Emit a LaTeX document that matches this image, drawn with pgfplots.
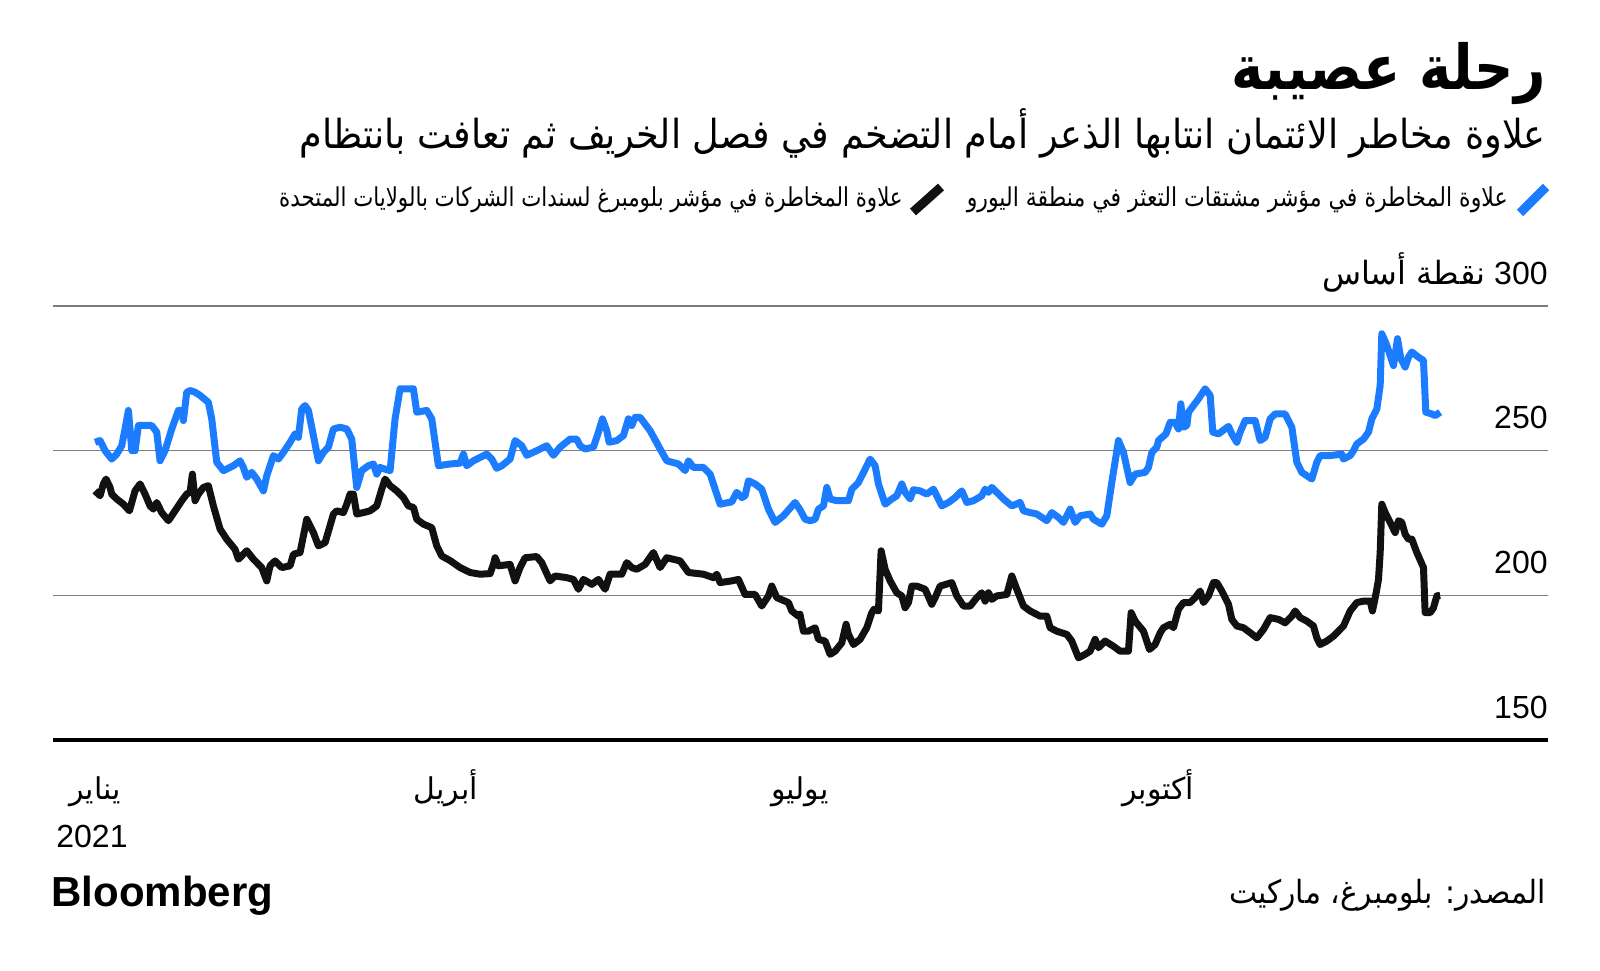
\documentclass[border=0pt]{standalone}
\usepackage{fontspec}
\usepackage{pgfplots}
\pgfplotsset{compat=1.18}
\setmainfont{Liberation Sans}
\newfontfamily\ar[Script=Arabic]{DejaVu Sans}
\TeXXeTstate=1
\definecolor{bbblue}{RGB}{28,124,255}
\definecolor{gridgray}{RGB}{125,125,125}
\definecolor{bbblack}{RGB}{17,17,17}

\begin{document}
\begin{tikzpicture}
\path (-26.5pt,370pt) rectangle (773.5pt,-115pt);
\begin{axis}[
    at={(0,0)}, anchor=south west,
    scale only axis, width=747.5pt, height=217pt,
    xmin=-10.8, xmax=373.1, ymin=150, ymax=300,
    axis line style={draw=none},
    tick style={draw=none},
    ymajorgrids,
    major grid style={gridgray, line width=0.8pt},
    ytick={200,250,300},
    yticklabels={200,250,{{\ar\beginR نقطة أساس\endR}\ 300}},
    extra y ticks={150},
    extra y tick labels={150},
    extra y tick style={major grid style={black, line width=2pt}},
    yticklabel pos=right,
    yticklabel style={anchor=base east, inner sep=0pt, yshift=11pt, font=\fontsize{16}{19}\selectfont},
    xtick={0,90,181,273},
    xticklabels={{\ar يناير},{\ar أبريل},{\ar يوليو},{\ar أكتوبر}},
    xticklabel style={anchor=base, inner sep=0pt, yshift=-29.5pt, font=\fontsize{15}{18}\selectfont},
    clip=false,
]
\addplot[bbblue, line width=3.5pt, line join=round] coordinates {
(0,252.9) (1.28,253.5) (2.57,250.0) (4.28,247.1) (5.56,248.8) (6.85,251.7) (7.70,257.5) (8.56,263.9)
(8.99,257.5) (9.42,250.0) (10.27,250.0) (11.13,258.7) (11.98,258.7) (14.55,258.7) (15.84,256.4)
(16.69,246.5) (17.98,250.0) (19.69,257.5) (21.40,263.9) (22.26,263.9) (22.68,260.4) (23.54,270.2)
(24.40,270.8) (25.68,270.2) (26.96,269.1) (29.10,266.7) (29.96,261.0) (31.25,246.0) (32.96,243.1)
(35.52,244.8) (37.24,246.5) (38.09,244.2) (38.95,240.8) (40.23,242.5) (41.52,240.2) (43.23,236.1)
(44.09,241.3) (45.80,248.3) (47.08,247.1) (48.37,249.4) (50.08,252.9) (51.36,255.8) (52.22,254.6)
(53.07,264.4) (53.93,265.6) (54.78,263.9) (56.07,255.2) (57.35,246.5) (58.64,249.4) (59.92,251.2)
(61.21,257.5) (62.92,258.1) (64.63,257.5) (65.91,254.0) (67.20,237.3) (68.48,243.1) (70.19,244.8)
(71.48,245.4) (72.33,241.9) (73.19,244.2) (74.47,243.6) (75.76,243.1) (77.04,261.0) (78.33,271.4)
(79.61,271.4) (81.75,271.4) (82.61,263.3) (85.17,263.9) (86.46,261.0) (88.17,244.8) (91.17,245.4)
(93.73,245.7) (94.59,248.8) (95.45,244.8) (97.16,246.5) (100.58,248.8) (101.87,247.1) (103.15,243.9)
(104.44,244.8) (106.57,247.1) (107.86,253.5) (109.57,251.7) (110.86,248.4) (113.42,250.0) (115.99,251.7)
(117.70,248.4) (119.41,251.2) (121.98,254.0) (123.69,254.0) (124.55,251.7) (125.83,250.6) (127.98,251.2)
(129.26,256.4) (130.29,261.0) (131.40,256.9) (132.00,252.9) (133.97,253.5) (135.68,255.2) (136.96,261.0)
(137.82,258.7) (138.67,261.5) (139.96,261.5) (142.53,256.9) (145.09,250.6) (146.81,246.5) (149.80,245.4)
(151.52,243.1) (152.37,246.5) (153.66,244.2) (156.22,244.2) (157.94,241.9) (159.22,236.7) (160.50,231.5)
(163.50,232.3) (164.78,235.6) (166.07,233.8) (166.92,234.4) (167.78,239.6) (169.49,238.5) (171.20,236.7)
(172.92,229.8) (174.63,225.2) (176.77,227.5) (179.76,232.1) (181.05,229.5) (182.33,226.3) (183.62,225.8)
(184.90,226.3) (185.76,229.8) (187.04,230.9) (187.90,237.3) (188.75,233.3) (190.46,232.7) (193.46,232.7)
(194.32,236.7) (196.03,239.0) (197.74,243.6) (199.02,247.1) (200.31,244.8) (201.16,238.5) (202.88,231.5)
(204.59,233.3) (205.87,234.4) (207.16,238.5) (208.01,235.6) (209.30,233.3) (210.15,236.5) (211.86,236.1)
(213.58,235.0) (215.29,236.7) (217.43,230.9) (219.14,232.1) (220.85,233.8) (222.57,236.1) (223.85,232.1)
(225.56,232.7) (227.70,234.4) (228.56,236.7) (229.41,235.6) (230.27,237.3) (231.55,235.6) (233.26,233.3)
(235.41,230.9) (237.54,232.1) (238.40,229.2) (240.11,228.6) (241.83,228.1) (244.39,225.8) (245.68,228.6)
(247.39,226.9) (248.67,225.2) (250.39,229.8) (251.67,225.2) (252.95,227.5) (255.52,228.1) (256.38,226.3)
(258.52,224.6) (259.80,227.5) (261.08,239.0) (262.80,253.5) (264.08,249.4) (265.79,239.0) (267.08,241.9)
(269.65,242.5) (270.50,244.2) (271.36,249.4) (272.64,251.2) (273.07,253.5) (275.00,255.8) (276.07,259.8)
(277.35,259.8) (278.21,257.5) (278.81,266.2) (279.49,258.1) (280.35,258.7) (280.78,263.3) (282.06,265.6)
(283.34,267.9) (285.05,271.4) (286.34,269.1) (287.02,256.4) (288.48,255.8) (291.05,258.4) (291.90,255.8)
(293.19,252.9) (294.04,256.4) (295.33,260.4) (297.89,260.4) (299.18,253.5) (300.46,254.6) (301.75,261.0)
(303.03,262.7) (305.60,262.7) (307.31,258.1) (308.60,246.0) (309.88,242.5) (312.45,240.2) (313.73,246.0)
(314.59,248.3) (317.15,248.3) (320.15,248.8) (320.58,247.1) (322.29,248.3) (323.15,250.0) (324.00,252.3)
(325.71,254.0) (327.00,256.4) (327.86,261.0) (329.14,264.4) (330.00,272.5) (330.42,290.4) (331.71,286.4)
(332.56,282.9) (333.42,279.4) (334.45,288.7) (335.30,281.8) (336.42,278.9) (337.27,282.3) (338.13,284.1)
(339.84,282.3) (341.12,281.2) (341.72,263.3) (343.26,262.7) (344.12,262.1) (345.40,263.3)
};
\addplot[bbblack, line width=3.5pt, line join=round] coordinates {
(0,236.1) (1.28,234.4) (2.14,238.5) (2.82,240.2) (3.85,237.3) (4.28,235.0) (5.56,233.3) (7.28,231.5)
(8.82,229.2) (10.27,236.1) (11.56,238.5) (12.84,235.0) (14.12,230.9) (14.98,229.8) (15.84,232.1)
(17.12,228.6) (18.83,225.8) (20.54,229.2) (22.26,232.7) (23.54,235.0) (24.40,235.6) (25.00,241.9)
(25.68,232.7) (26.54,235.0) (27.82,237.3) (29.10,237.9) (30.39,230.9) (32.10,222.9) (33.81,219.4)
(35.95,215.9) (36.81,212.5) (38.95,215.4) (40.66,212.5) (42.80,209.6) (44.09,205.0) (44.94,210.2)
(46.22,211.9) (47.94,209.6) (50.08,210.2) (50.93,214.2) (52.64,214.8) (54.36,226.3) (56.07,221.7)
(57.35,217.1) (59.07,218.2) (61.21,228.1) (62.06,229.2) (63.77,228.6) (64.63,231.5) (65.49,235.0)
(66.34,235.0) (67.20,228.1) (68.91,228.6) (70.62,229.2) (72.33,230.9) (73.62,236.7) (74.47,240.2)
(75.76,237.9) (77.47,236.1) (79.18,233.8) (80.47,230.9) (81.75,230.4) (82.61,226.3) (84.32,224.6)
(86.46,223.4) (87.74,217.1) (89.03,213.6) (91.17,212.0) (93.73,209.6) (96.30,207.9) (98.87,207.3)
(101.44,207.5) (102.29,210.7) (102.72,213.0) (103.58,210.2) (106.57,210.7) (107.86,205.0) (109.14,209.6)
(110.43,213.0) (113.42,213.4) (114.71,211.3) (116.85,205.0) (118.13,206.7) (121.13,206.1) (122.84,205.5)
(124.12,202.1) (125.41,205.5) (127.55,203.8) (129.26,205.5) (130.97,202.1) (132.25,207.3) (135.25,207.3)
(136.53,211.3) (137.82,209.6) (139.10,209.0) (141.24,210.7) (143.38,214.8) (145.09,209.6) (146.81,213.0)
(150.23,211.9) (152.37,207.9) (156.22,207.3) (158.79,206.1) (159.65,207.3) (160.50,204.4) (163.50,205.0)
(165.21,205.5) (166.92,200.3) (169.49,200.3) (171.20,196.3) (172.92,199.8) (173.77,203.2) (175.06,199.2)
(178.05,197.5) (178.91,194.6) (180.62,192.8) (181.00,193.5) (181.90,187.6) (183.19,187.6) (184.90,188.8)
(185.76,184.8) (187.47,184.2) (188.75,179.6) (190.04,180.7) (191.75,183.6) (192.86,190.0) (193.46,186.5)
(194.75,183.0) (196.46,184.8) (198.17,188.8) (199.45,194.0) (200.05,195.2) (201.16,194.6) (201.85,215.4)
(202.88,209.0) (204.16,205.0) (205.87,200.9) (207.16,199.8) (208.01,195.7) (208.87,197.5) (209.73,203.2)
(211.01,203.2) (213.15,202.1) (214.86,196.9) (215.72,199.2) (217.00,203.2) (220.00,204.4) (221.28,199.8)
(223.00,196.3) (224.71,196.3) (226.42,199.2) (227.70,200.9) (228.56,198.0) (229.41,200.9) (230.27,198.6)
(231.55,199.8) (234.12,200.3) (235.41,206.7) (236.69,202.1) (238.40,196.3) (240.11,194.6) (242.68,192.8)
(244.39,192.8) (245.25,188.8) (246.96,187.6) (249.53,186.5) (250.81,184.2) (252.52,178.4) (254.24,179.6)
(255.52,180.7) (256.80,184.8) (257.66,181.9) (259.37,184.2) (261.51,182.4) (263.23,180.7) (265.36,180.7)
(266.05,194.0) (267.08,191.1) (269.22,187.6) (270.76,181.3) (272.21,183.0) (273.50,187.0) (274.35,188.8)
(276.07,190.0) (276.92,188.8) (278.21,195.2) (279.49,197.5) (281.20,197.5) (282.49,199.2) (283.77,201.5)
(284.63,197.5) (285.91,199.8) (287.19,204.4) (288.05,204.4) (289.33,201.5) (291.05,196.9) (291.90,191.7)
(293.19,189.4) (294.90,188.8) (296.61,187.1) (298.32,185.3) (300.03,188.2) (301.75,192.3) (303.88,191.7)
(305.60,190.5) (307.31,192.8) (308.17,194.6) (309.45,192.3) (311.16,191.1) (312.87,189.4) (313.73,185.3)
(314.59,183.0) (316.30,184.2) (318.01,185.9) (320.58,189.4) (322.29,194.6) (324.00,197.5) (325.71,198.0)
(327.43,198.0) (328.02,194.6) (328.97,200.9) (329.57,205.5) (330.00,214.8) (330.42,231.5) (331.28,228.6)
(332.56,225.2) (333.85,221.7) (334.70,225.8) (335.56,225.2) (336.42,221.1) (337.27,219.4) (338.13,219.4)
(339.41,214.8) (341.12,209.6) (341.55,194.0) (342.83,194.0) (343.69,195.7) (344.55,199.8) (345.40,200.0)
};
\end{axis}
% 2021 under the January label
\node[anchor=base, inner sep=0pt, font=\fontsize{16}{19}\selectfont] at (19.5pt,-53.5pt) {2021};
% title, subtitle
\node[anchor=base east, inner sep=0pt, font=\ar\bfseries\fontsize{31}{36}\selectfont] at (746.5pt,325pt) {\scalebox{0.88}[1]{\beginR رحلة عصيبة\endR}};
\node[anchor=base east, inner sep=0pt, font=\ar\fontsize{20}{24}\selectfont] at (746.5pt,295.5pt) {\scalebox{0.915}[1]{\beginR علاوة مخاطر الائتمان انتابها الذعر أمام التضخم في فصل الخريف ثم تعافت بانتظام\endR}};
% legend
\draw[bbblue, line width=4.5pt] (733.5pt,263.5pt) -- (746.5pt,276.5pt);
\node[anchor=base east, inner sep=0pt, font=\ar\fontsize{13}{16}\selectfont] at (727.5pt,266.5pt) {\scalebox{0.847}[1]{\beginR علاوة المخاطرة في مؤشر مشتقات التعثر في منطقة اليورو\endR}};
\draw[bbblack, line width=4.5pt] (430pt,264pt) -- (444pt,276.5pt);
\node[anchor=base east, inner sep=0pt, font=\ar\fontsize{13}{16}\selectfont] at (425pt,266.5pt) {\scalebox{0.82}[1]{\beginR علاوة المخاطرة في مؤشر بلومبرغ لسندات الشركات بالولايات المتحدة\endR}};
% footer
\node[anchor=base west, inner sep=0pt, font=\bfseries\fontsize{21}{25}\selectfont] at (-1pt,-83pt) {Bloomberg};
\node[anchor=base east, inner sep=0pt, font=\ar\fontsize{16}{19}\selectfont] at (746.5pt,-81.5pt) {\scalebox{0.93}[1]{\beginR المصدر: بلومبرغ، ماركيت\endR}};
\end{tikzpicture}
\end{document}
